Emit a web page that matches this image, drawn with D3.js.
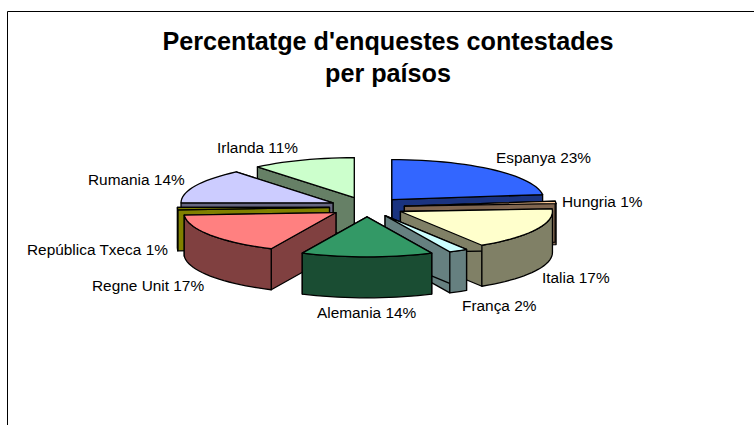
<!DOCTYPE html>
<html>
<head>
<meta charset="utf-8">
<script src="https://cdn.jsdelivr.net/npm/d3@7"></script>
<style>
  html, body { margin: 0; padding: 0; background: #fff; }
  text { font-family: "Liberation Sans", Arial, sans-serif; fill: #000; }
</style>
</head>
<body>
<div class="chart"></div>
<script>
const titleLines = ["Percentatge d'enquestes contestades", "per paísos"];
const countries = ["Espanya", "Hungria", "Italia", "França", "Alemania", "Regne Unit", "República Txeca", "Rumania", "Irlanda"];
const percents = [23, 1, 17, 2, 14, 17, 1, 14, 11];
const topColors = ["#3366ff", "#ffcc99", "#ffffcc", "#ccffff", "#339966", "#ff8080", "#808000", "#ccccff", "#ccffcc"];
const wallColors = ["#1a3380", "#806650", "#808066", "#668080", "#1a4d33", "#804040", "#808000", "#666680", "#668066"];

// label placement, same order as countries (left edge / baseline)
const labelX = [496, 562, 542, 462, 317, 92, 27, 88, 217];
const labelY = [163, 207, 283, 311, 318, 291, 255, 185, 153];

const width = 754;
const height = 425;
const centerX = 367;
const centerY = 207;
const radiusX = 152;
const radiusY = 40;
const depth = 41;
const explode = 0.247;

const svg = d3.select('.chart')
  .append('svg')
  .attr('width', width)
  .attr('height', height)
  .style('display', 'block');

// frame, only top and left are in the picture
svg.append('path')
  .attr('d', `M7.5,${height}V11.5H${width}`)
  .style('fill', 'none')
  .style('stroke', '#000')
  .style('stroke-width', 1);

svg.selectAll('.title')
  .data(titleLines)
  .enter()
  .append('text')
  .attr('class', 'title')
  .attr('x', 388)
  .attr('y', (d, i) => 50 + i * 32)
  .style('text-anchor', 'middle')
  .style('font-weight', 'bold')
  .style('font-size', '25.2px')
  .text(d => d);

// unit circle -> flattened ellipse on screen
const xScale = d3.scaleLinear().domain([-1, 1]).range([centerX - radiusX, centerX + radiusX]);
const yScale = d3.scaleLinear().domain([-1, 1]).range([centerY + radiusY, centerY - radiusY]);

const pie = d3.pie().sort(null).value(d => d.percent);
const slices = pie(countries.map((name, i) => ({
  name: name,
  percent: percents[i],
  top: topColors[i],
  wall: wallColors[i]
})));

const line = d3.line().x(d => d[0]).y(d => d[1]);

function apex(s) {
  const mid = (s.startAngle + s.endAngle) / 2;
  return [xScale(explode * Math.sin(mid)), yScale(explode * Math.cos(mid))];
}

function rimPoints(s, from, to) {
  const c = apex(s);
  const steps = Math.max(2, Math.ceil((to - from) / 0.05));
  return d3.range(steps + 1).map(i => {
    const a = from + (to - from) * i / steps;
    return [
      c[0] + xScale(Math.sin(a)) - xScale(0),
      c[1] + yScale(Math.cos(a)) - yScale(0)
    ];
  });
}

function down(p) {
  return [p[0], p[1] + depth];
}

function radialWall(s, a) {
  const c = apex(s);
  const r = rimPoints(s, a, a)[0];
  return line([c, r, down(r), down(c)]) + 'Z';
}

function outerWall(s) {
  const from = Math.max(s.startAngle, Math.PI / 2);
  const to = Math.min(s.endAngle, Math.PI * 1.5);
  if (to <= from) return null;
  const rim = rimPoints(s, from, to);
  return line(rim.concat(rim.slice().reverse().map(down))) + 'Z';
}

function topFace(s) {
  return line([apex(s)].concat(rimPoints(s, s.startAngle, s.endAngle))) + 'Z';
}

// paint from back to front
const order = slices.slice().sort((a, b) =>
  Math.cos((b.startAngle + b.endAngle) / 2) - Math.cos((a.startAngle + a.endAngle) / 2));

const groups = svg.selectAll('.slice')
  .data(order)
  .enter()
  .append('g')
  .attr('class', 'slice')
  .style('stroke', '#000')
  .style('stroke-width', 1.3)
  .style('stroke-linejoin', 'round');

groups.append('path').attr('d', d => radialWall(d, d.endAngle)).style('fill', d => d.data.wall);
groups.append('path').attr('d', d => radialWall(d, d.startAngle)).style('fill', d => d.data.wall);
groups.filter(d => outerWall(d) !== null)
  .append('path').attr('d', d => outerWall(d)).style('fill', d => d.data.wall);
groups.append('path').attr('d', d => topFace(d)).style('fill', d => d.data.top);

svg.selectAll('.label')
  .data(slices)
  .enter()
  .append('text')
  .attr('class', 'label')
  .attr('x', (d, i) => labelX[i])
  .attr('y', (d, i) => labelY[i])
  .style('font-size', '15.4px')
  .text(d => d.data.name + ' ' + d.data.percent + '%');
</script>
</body>
</html>
